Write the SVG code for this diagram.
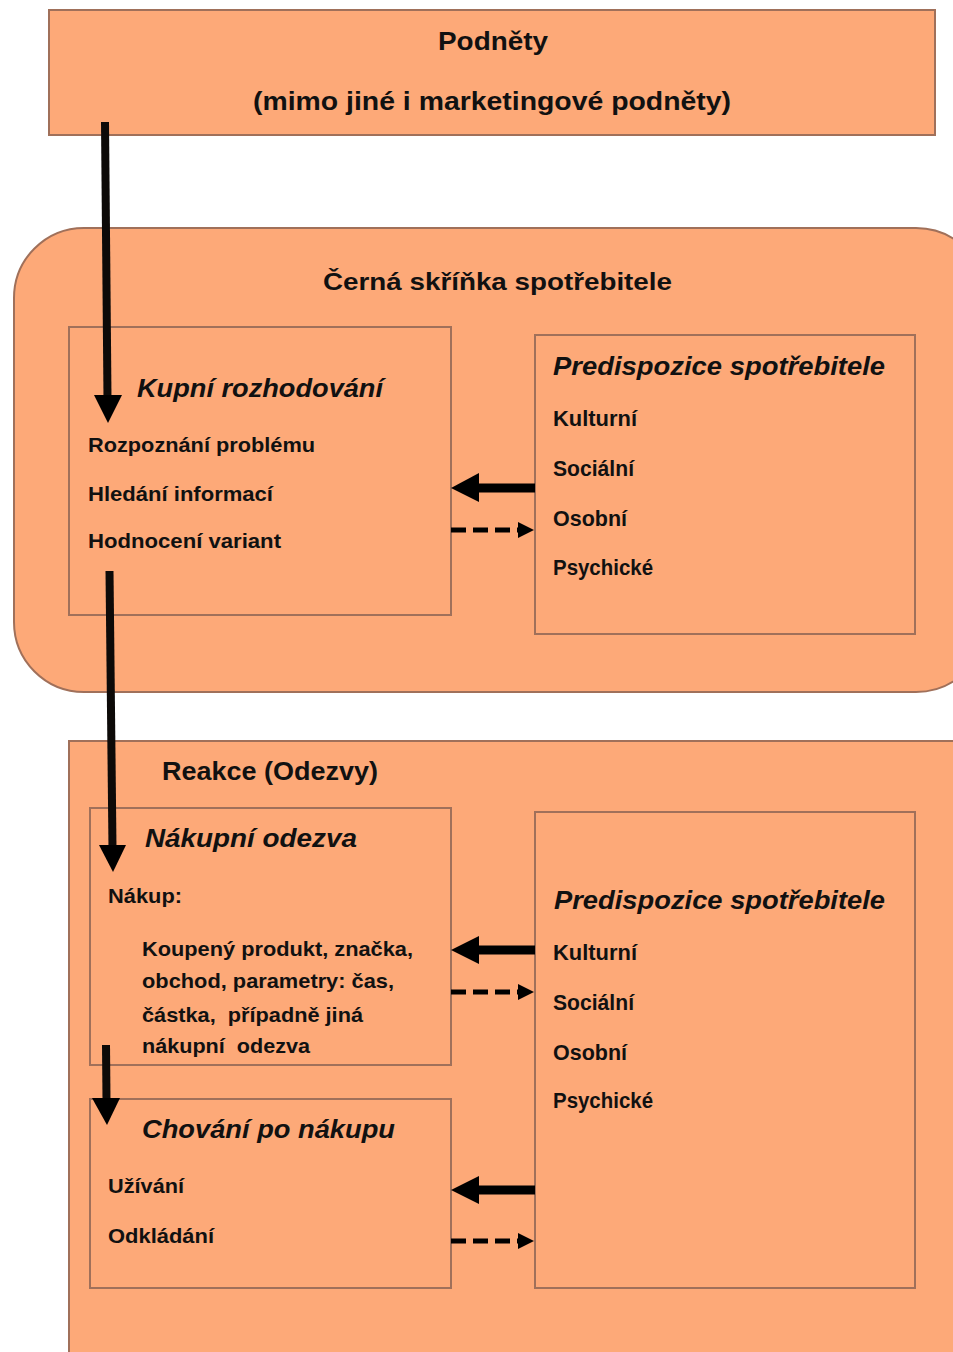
<svg xmlns="http://www.w3.org/2000/svg" width="953" height="1352" viewBox="0 0 953 1352">
<defs>
<style>
.box{fill:#FDA978;stroke:#A0705A;stroke-width:2}
.t{font-family:"Liberation Sans",Arial,sans-serif;font-weight:bold;fill:#111}
.i{font-style:italic}
.solid{stroke:#000;stroke-width:9;fill:none}
.vline{stroke:#0d0a08;stroke-width:8;fill:none}
.dash{stroke:#000;stroke-width:5;stroke-dasharray:15 7;fill:none}
.head{fill:#000}
</style>
</defs>
<rect width="953" height="1352" fill="#ffffff"/>

<g id="podnety">
<rect class="box" x="49" y="10" width="886" height="125"/>
<text class="t" x="438" y="50" font-size="25" textLength="110" lengthAdjust="spacingAndGlyphs">Podněty</text>
<text class="t" x="253" y="110" font-size="25" textLength="478" lengthAdjust="spacingAndGlyphs">(mimo jiné i marketingové podněty)</text>
</g>

<g id="cerna-skrinka">
<rect class="box" x="14" y="228" width="972" height="464" rx="70" ry="70"/>
<text class="t" x="323" y="290" font-size="24" textLength="349" lengthAdjust="spacingAndGlyphs">Černá skříňka spotřebitele</text>
</g>

<g id="kupni-rozhodovani">
<rect class="box" x="69" y="327" width="382" height="288"/>
<text class="t i" x="137" y="397" font-size="26" textLength="246" lengthAdjust="spacingAndGlyphs">Kupní rozhodování</text>
<text class="t" x="88" y="452" font-size="21" textLength="227" lengthAdjust="spacingAndGlyphs">Rozpoznání problému</text>
<text class="t" x="88" y="501" font-size="21" textLength="185" lengthAdjust="spacingAndGlyphs">Hledání informací</text>
<text class="t" x="88" y="548" font-size="21" textLength="193" lengthAdjust="spacingAndGlyphs">Hodnocení variant</text>
</g>

<g id="predispozice-1">
<rect class="box" x="535" y="335" width="380" height="299"/>
<text class="t i" x="553" y="375" font-size="26" textLength="332" lengthAdjust="spacingAndGlyphs">Predispozice spotřebitele</text>
<text class="t" x="553" y="426" font-size="22" textLength="84" lengthAdjust="spacingAndGlyphs">Kulturní</text>
<text class="t" x="553" y="476" font-size="22" textLength="81" lengthAdjust="spacingAndGlyphs">Sociální</text>
<text class="t" x="553" y="526" font-size="22" textLength="74" lengthAdjust="spacingAndGlyphs">Osobní</text>
<text class="t" x="553" y="575" font-size="22" textLength="100" lengthAdjust="spacingAndGlyphs">Psychické</text>
</g>

<g id="reakce">
<rect class="box" x="69" y="741" width="920" height="640"/>
<text class="t" x="162" y="780" font-size="26" textLength="216" lengthAdjust="spacingAndGlyphs">Reakce (Odezvy)</text>
</g>

<g id="nakupni-odezva">
<rect class="box" x="90" y="808" width="361" height="257"/>
<text class="t i" x="145" y="847" font-size="26" textLength="212" lengthAdjust="spacingAndGlyphs">Nákupní odezva</text>
<text class="t" x="108" y="903" font-size="21" textLength="74" lengthAdjust="spacingAndGlyphs">Nákup:</text>
<text class="t" x="142" y="956" font-size="21" textLength="271" lengthAdjust="spacingAndGlyphs">Koupený produkt, značka,</text>
<text class="t" x="142" y="988" font-size="21" textLength="252" lengthAdjust="spacingAndGlyphs">obchod, parametry: čas,</text>
<text class="t" x="142" y="1022" font-size="21" textLength="221" lengthAdjust="spacingAndGlyphs" xml:space="preserve">částka,  případně jiná</text>
<text class="t" x="142" y="1053" font-size="21" textLength="168" lengthAdjust="spacingAndGlyphs" xml:space="preserve">nákupní  odezva</text>
</g>

<g id="chovani-po-nakupu">
<rect class="box" x="90" y="1099" width="361" height="189"/>
<text class="t i" x="142" y="1138" font-size="26" textLength="253" lengthAdjust="spacingAndGlyphs">Chování po nákupu</text>
<text class="t" x="108" y="1193" font-size="21" textLength="76" lengthAdjust="spacingAndGlyphs">Užívání</text>
<text class="t" x="108" y="1243" font-size="21" textLength="106" lengthAdjust="spacingAndGlyphs">Odkládání</text>
</g>

<g id="predispozice-2">
<rect class="box" x="535" y="812" width="380" height="476"/>
<text class="t i" x="554" y="909" font-size="26" textLength="331" lengthAdjust="spacingAndGlyphs">Predispozice spotřebitele</text>
<text class="t" x="553" y="960" font-size="22" textLength="84" lengthAdjust="spacingAndGlyphs">Kulturní</text>
<text class="t" x="553" y="1010" font-size="22" textLength="81" lengthAdjust="spacingAndGlyphs">Sociální</text>
<text class="t" x="553" y="1060" font-size="22" textLength="74" lengthAdjust="spacingAndGlyphs">Osobní</text>
<text class="t" x="553" y="1108" font-size="22" textLength="100" lengthAdjust="spacingAndGlyphs">Psychické</text>
</g>

<g id="connectors">
<line class="vline" x1="105" y1="122" x2="107.5" y2="398"/>
<polygon class="head" points="94,395 122,395 108,423"/>
<line class="vline" x1="109.5" y1="571" x2="112.5" y2="848"/>
<polygon class="head" points="99,845 126,845 113,872"/>
<line class="vline" x1="106" y1="1045" x2="106.5" y2="1100"/>
<polygon class="head" points="92,1098 120,1098 107,1125"/>
<line class="solid" x1="535" y1="488" x2="477" y2="488"/>
<polygon class="head" points="451,488 479,473 479,502"/>
<line class="dash" x1="451" y1="530" x2="519" y2="530"/>
<polygon class="head" points="534,530 518,522 518,538"/>
<line class="solid" x1="535" y1="950" x2="477" y2="950"/>
<polygon class="head" points="451,950 479,936 479,964"/>
<line class="dash" x1="451" y1="992" x2="519" y2="992"/>
<polygon class="head" points="534,992 518,984 518,1000"/>
<line class="solid" x1="535" y1="1190" x2="477" y2="1190"/>
<polygon class="head" points="451,1190 479,1176 479,1204"/>
<line class="dash" x1="451" y1="1241" x2="519" y2="1241"/>
<polygon class="head" points="534,1241 518,1233 518,1249"/>
</g>
</svg>
